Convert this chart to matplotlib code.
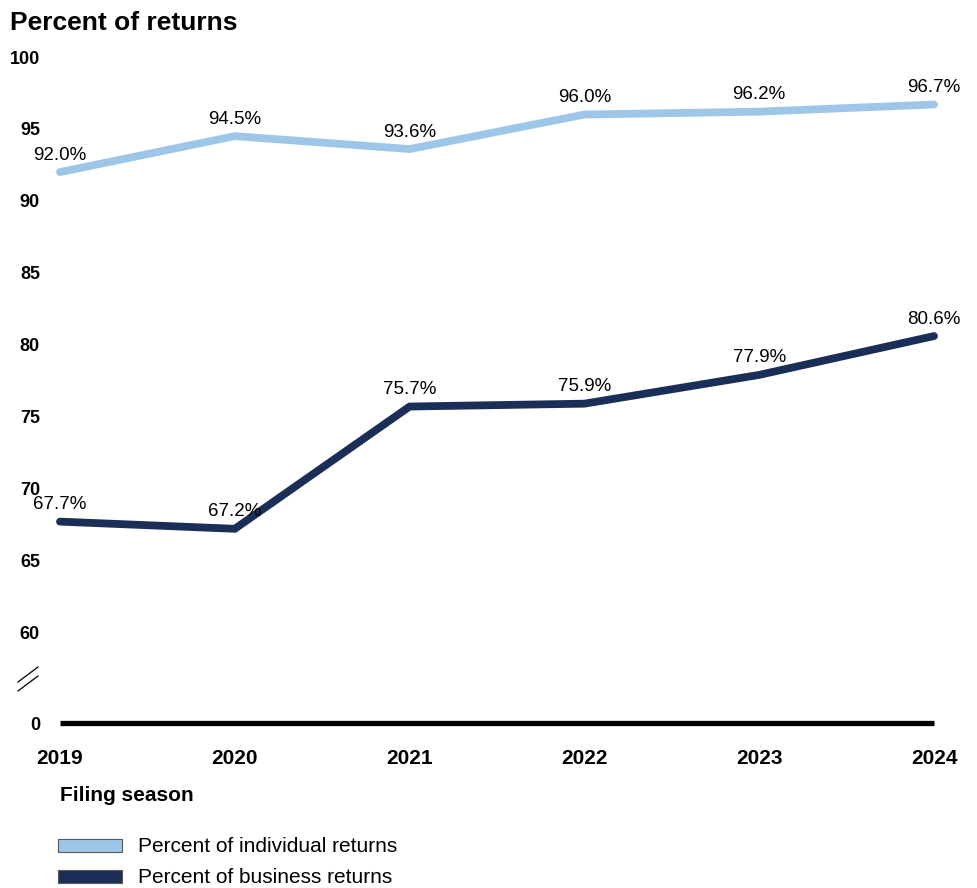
import matplotlib
matplotlib.use("Agg")
import matplotlib.pyplot as plt
from matplotlib.patches import Rectangle
from matplotlib.lines import Line2D

plt.rcParams['font.family'] = ['Liberation Sans', 'DejaVu Sans']

years = [2019, 2020, 2021, 2022, 2023, 2024]
individual = [92.0, 94.5, 93.6, 96.0, 96.2, 96.7]
business = [67.7, 67.2, 75.7, 75.9, 77.9, 80.6]
series_names = ["Percent of individual returns", "Percent of business returns"]
series_colors = ["#9DC6E8", "#1B2E57"]
ytick_values = [60, 65, 70, 75, 80, 85, 90, 95, 100]

W, H = 978, 888
fig = plt.figure(figsize=(W / 100, H / 100), dpi=100)

# axis break: the "0" baseline sits just below the 60 gridline position
ZERO_POS = 53.7
Y_TOP = 100.0
px_left, px_right = 60, 934
px_top, px_bottom = 57, 723
ax = fig.add_axes([px_left / W, 1 - px_bottom / H,
                   (px_right - px_left) / W, (px_bottom - px_top) / H])
ax.set_xlim(years[0], years[-1])
ax.set_ylim(ZERO_POS, Y_TOP)
for s in ax.spines.values():
    s.set_visible(False)

for vals, color in zip([individual, business], series_colors):
    ax.plot(years, vals, color=color, lw=5.6, solid_capstyle='round',
            solid_joinstyle='miter', clip_on=False, zorder=3)
    for x, v in zip(years, vals):
        ax.annotate(f"{v:.1f}%", (x, v), xytext=(0, 9), textcoords='offset points',
                    ha='center', va='baseline', fontsize=13.5, color='black',
                    annotation_clip=False)

# zero baseline
ax.axhline(ZERO_POS, color='black', lw=3.8, solid_capstyle='butt', clip_on=False, zorder=2)

ax.set_yticks([ZERO_POS] + ytick_values)
ax.set_yticklabels(["0"] + [str(v) for v in ytick_values], fontsize=13, fontweight='bold')
ax.tick_params(axis='y', length=0, pad=14.4)
ax.set_xticks(years)
ax.set_xticklabels([str(y) for y in years], fontsize=15, fontweight='bold')
ax.tick_params(axis='x', length=0, pad=18.5)

# axis break marks
for dy in (0, 9):
    fig.add_artist(Line2D([18 / W, 38 / W], [1 - (682 + dy) / H, 1 - (667 + dy) / H],
                          color='black', lw=0.9))

fig.text(10 / W, 1 - 30 / H, "Percent of returns", fontsize=19, fontweight='bold',
         ha='left', va='baseline')
fig.text(60 / W, 1 - 801 / H, "Filing season", fontsize=15, fontweight='bold',
         ha='left', va='baseline')

# legend
for i, (name, color) in enumerate(zip(series_names, series_colors)):
    top = 839 + i * 31
    fig.add_artist(Rectangle((58 / W, 1 - (top + 13) / H), 64 / W, 13 / H,
                             facecolor=color, edgecolor='#595959', lw=0.8))
    fig.text(138 / W, 1 - (top + 13) / H, name, fontsize=15, ha='left', va='baseline')

fig.savefig("out.png", dpi=100)
